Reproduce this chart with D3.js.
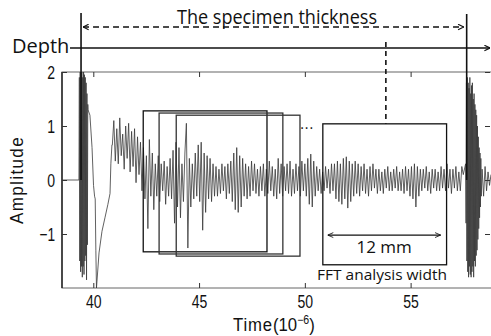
<!DOCTYPE html>
<html>
<head>
<meta charset="utf-8">
<script src="https://cdn.jsdelivr.net/npm/d3@7"></script>
<style>
  html, body { margin: 0; padding: 0; background: #fff; }
  svg { display: block; }
  .tick-label { font-family: "Liberation Sans", Arial, sans-serif; font-size: 19px; fill: #111; }
  .note { font-family: "Open Sans", "Noto Sans", sans-serif; fill: #111; }
</style>
</head>
<body>
<svg id="chart" width="491" height="336"></svg>
<script>
// axis ticks
const xTicks = [40, 45, 50, 55];
const yTicks = [-1, 0, 1, 2];

// waveform (time in 1e-6 s)
const baselineTimes = [38.52, 39.32];
const baselineValues = [0, 0];

// front-surface echo, sampled every 0.02 from 39.32
const frontEchoStart = 39.32, frontEchoStep = 0.02;
const frontEchoValues = [0.0, 1.9, -1.5, 2.0, -1.7, 2.0, -1.6, 2.0, -1.8, 1.9, -1.6,
  2.0, -1.75, 1.95, -1.5, 1.9, -1.4, 1.8, -1.85, 1.6, -1.2, 1.4];

// slow dip right after the front echo
const dipTimes  = [39.75, 39.84, 39.94, 40.01, 40.06, 40.09, 40.12, 40.15, 40.27, 40.41, 40.55, 40.69, 40.79, 40.83, 40.88];
const dipValues = [1.3, 1.2, 0.6, -0.1, -0.3, -0.35, -1.3, -2.0, -1.35, -0.95, -0.7, -0.45, -0.25, 0.3, 0.65];

// scattered coda, sampled every 0.07 from 40.9
const codaStart = 40.9, codaStep = 0.07;
const codaValues = [
  0.65, 1.1, 0.35, 0.95, 0.3, 1.15, 0.45, 0.85, 0.2, 1.0,
  0.4, 1.05, 0.15, 0.9, 0.25, 0.95, -0.05, 0.8, 0.1, 0.7,
  -0.2, 0.6, -0.35, 0.45, -0.9, 0.75, -0.3, 0.5, -0.55, 0.3,
  -0.3, 0.45, -0.4, 0.3, -0.2, 0.35, -0.45, 0.25, -0.3, 0.4,
  -0.35, 0.55, -0.8, 0.7, -0.5, 0.6, -0.7, 0.3, -0.4, 0.5,
  1.05, -1.26, 0.4, -0.5, 0.3, -0.35, 0.5, -0.3, 0.65, -0.4,
  0.7, -0.93, 0.5, -0.6, 0.45, -0.35, 0.4, -0.4, 0.3, -0.3,
  0.25, -0.3, 0.2, -0.25, 0.3, -0.2, 0.25, -0.35, 0.3, -0.25,
  0.35, -0.4, 0.5, -0.55, 0.6, -0.6, 0.45, -0.5, 0.4, -0.3,
  0.3, -0.35, 0.25, -0.3, 0.35, -0.2, 0.3, -0.25, 0.2, -0.3,
  0.25, -0.2, 0.3, -0.3, 0.2, -0.25, 0.35, -0.2, 0.25, -0.3,
  0.2, -0.35, 0.4, -0.25, 0.3, -0.3, 0.25, -0.2, 0.3, -0.25,
  0.35, -0.3, 0.2, -0.25, 0.3, -0.2, 0.25, -0.3, 0.35, -0.2,
  0.3, -0.3, 0.4, -0.45, 0.48, -0.5, 0.35, -0.3, 0.25, -0.2,
  0.2, -0.25, 0.15, -0.2, 0.25, -0.15, 0.2, -0.25, 0.3, -0.2,
  0.3, -0.35, 0.35, -0.4, 0.3, -0.45, 0.4, -0.35, 0.43, -0.52,
  0.35, -0.4, 0.3, -0.3, 0.35, -0.25, 0.3, -0.3, 0.25, -0.2,
  0.3, -0.25, 0.2, -0.3, 0.25, -0.2, 0.3, -0.15, 0.2, -0.25,
  0.2, -0.2, 0.15, -0.25, 0.2, -0.15, 0.25, -0.2, 0.15, -0.2,
  0.2, -0.15, 0.25, -0.2, 0.15, -0.2, 0.2, -0.25, 0.25, -0.2,
  0.2, -0.3, 0.25, -0.35, 0.3, -0.5, 0.25, -0.3, 0.2, -0.2,
  0.2, -0.15, 0.25, -0.2, 0.15, -0.25, 0.2, -0.15, 0.2, -0.2,
  0.15, -0.2, 0.25, -0.15, 0.2, -0.2, 0.3, -0.15, 0.2, -0.25,
  0.2, -0.15, 0.25, -0.2, 0.15, -0.2, 0.25, 0.1
];

// back-wall echo, sampled every 0.02 from 57.6
const backEchoStart = 57.6, backEchoStep = 0.02;
const backEchoValues = [0.3, -0.8, 1.8, -1.5, 1.9, -1.7, 1.8, -1.8, 1.7, -1.6, 1.9, -1.75,
  1.6, -1.8, 1.75, -1.7, 1.8, -1.6, 1.5, -1.8, 1.6, -1.5, 1.4, -1.6, 1.3, -1.4, 1.2,
  -1.3, 1.0, -1.1, 0.8, -0.9, 0.6, -0.7, 0.5, -0.5, 0.4, -0.3];

// after the back echo, every 0.07 from 58.38
const tailStart = 58.38, tailStep = 0.07;
const tailValues = [0.2, -0.3, 0.25, -0.2, 0.15, -0.1, 0.1];

// FFT analysis windows
const windowStarts  = [42.36, 43.11, 43.92, 50.85];
const windowTops    = [1.28, 1.24, 1.2, 1.04];
const windowBottoms = [-1.33, -1.37, -1.41, -1.57];
const windowWidth = 5.85;

// annotation positions in data units
const surfaceTime = 39.42, backWallTime = 57.65, depthMarkTime = 53.83;
const rulerFrom = 51.08, rulerTo = 56.42, rulerLevel = -1.02;

const svg = d3.select('#chart');
const margin = { left: 62, top: 72, right: 0, bottom: 48 };
const W = 491, H = 336;

const x = d3.scaleLinear().domain([38.52, 58.8]).range([margin.left, W - margin.right]);
const y = d3.scaleLinear().domain([-2, 2]).range([H - margin.bottom, margin.top]);

const grid = (start, step, vals) => vals.map((v, i) => [start + i * step, v]);
const signal = [
  ...baselineTimes.map((t, i) => [t, baselineValues[i]]),
  ...grid(frontEchoStart, frontEchoStep, frontEchoValues),
  ...dipTimes.map((t, i) => [t, dipValues[i]]),
  ...grid(codaStart, codaStep, codaValues),
  ...grid(backEchoStart, backEchoStep, backEchoValues),
  ...grid(tailStart, tailStep, tailValues),
];

svg.append('defs').append('clipPath').attr('id', 'plot-clip')
  .append('rect')
  .attr('x', margin.left).attr('y', margin.top)
  .attr('width', W - margin.left - margin.right).attr('height', H - margin.top - margin.bottom);

// frame
svg.append('rect')
  .attr('x', margin.left).attr('y', margin.top)
  .attr('width', W - margin.left - margin.right + 2).attr('height', H - margin.top - margin.bottom)
  .attr('fill', 'none').attr('stroke', '#666').attr('stroke-width', 1);
svg.append('line')
  .attr('x1', margin.left).attr('x2', margin.left)
  .attr('y1', margin.top).attr('y2', H - margin.bottom)
  .attr('stroke', '#111').attr('stroke-width', 1.3);

// axes with inward ticks
const yAxisL = d3.axisLeft(y).tickValues(yTicks).tickSize(-5).tickPadding(7).tickFormat(d => d < 0 ? '\u2212' + Math.abs(d) : d);
const yAxisR = d3.axisRight(y).tickValues(yTicks).tickSize(-5).tickFormat('');
const xAxisB = d3.axisBottom(x).tickValues(xTicks).tickSize(-5).tickPadding(7);
const xAxisT = d3.axisTop(x).tickValues(xTicks).tickSize(-5).tickFormat('');

const gl = svg.append('g').attr('transform', `translate(${margin.left},0)`).call(yAxisL);
const gr = svg.append('g').attr('transform', `translate(${W - 1},0)`).call(yAxisR);
const gb = svg.append('g').attr('transform', `translate(0,${H - margin.bottom})`).call(xAxisB);
const gt = svg.append('g').attr('transform', `translate(0,${margin.top})`).call(xAxisT);
[gl, gr, gb, gt].forEach(g => {
  g.select('.domain').remove();
  g.selectAll('.tick line').attr('stroke', '#333');
  g.selectAll('.tick text')
    .attr('class', 'tick-label').attr('font-family', null).attr('font-size', null)
    .attr('textLength', function () { return this.textContent.length * 7.8; })
    .attr('lengthAdjust', 'spacingAndGlyphs');
});

// waveform
svg.append('path')
  .datum(signal)
  .attr('clip-path', 'url(#plot-clip)')
  .attr('fill', 'none')
  .attr('stroke', '#383838')
  .attr('stroke-width', 0.8)
  .attr('stroke-linejoin', 'round')
  .attr('d', d3.line().x(d => x(d[0])).y(d => y(d[1])));

// FFT windows
svg.append('g').selectAll('rect')
  .data(windowStarts).join('rect')
  .attr('x', d => x(d))
  .attr('y', (d, i) => y(windowTops[i]))
  .attr('width', d => x(d + windowWidth) - x(d))
  .attr('height', (d, i) => y(windowBottoms[i]) - y(windowTops[i]))
  .attr('fill', 'none')
  .attr('stroke', (d, i) => i === 0 || i === 3 ? '#111' : '#333')
  .attr('stroke-width', 1.3);

svg.append('text').attr('class', 'note')
  .attr('x', x(49.78)).attr('y', y(0.94))
  .attr('font-size', 14).attr('letter-spacing', 1)
  .text('...');

// markers
const defs = svg.select('defs');
defs.append('marker').attr('id', 'chev').attr('viewBox', '0 0 10 10')
  .attr('refX', 10).attr('refY', 5).attr('markerWidth', 7).attr('markerHeight', 7)
  .attr('markerUnits', 'userSpaceOnUse').attr('orient', 'auto-start-reverse')
  .append('path').attr('d', 'M2,1 L10,5 L2,9').attr('fill', 'none').attr('stroke', '#111').attr('stroke-width', 1.6);
defs.append('marker').attr('id', 'chevSmall').attr('viewBox', '0 0 10 10')
  .attr('refX', 10).attr('refY', 5).attr('markerWidth', 7).attr('markerHeight', 7)
  .attr('markerUnits', 'userSpaceOnUse').attr('orient', 'auto-start-reverse')
  .append('path').attr('d', 'M2,1.5 L10,5 L2,8.5').attr('fill', 'none').attr('stroke', '#111').attr('stroke-width', 1.2);

// vertical lines at front surface and back wall
svg.append('line')
  .attr('x1', x(surfaceTime)).attr('x2', x(surfaceTime))
  .attr('y1', 13).attr('y2', y(0))
  .attr('stroke', '#111').attr('stroke-width', 1.6);
svg.append('line')
  .attr('x1', x(backWallTime)).attr('x2', x(backWallTime))
  .attr('y1', 14).attr('y2', y(0))
  .attr('stroke', '#111').attr('stroke-width', 1.6);

// specimen thickness
svg.append('line')
  .attr('x1', x(surfaceTime) + 2).attr('x2', x(backWallTime) - 3)
  .attr('y1', 27).attr('y2', 27)
  .attr('stroke', '#111').attr('stroke-width', 1.3)
  .attr('stroke-dasharray', '6,4')
  .attr('marker-start', 'url(#chev)').attr('marker-end', 'url(#chev)');
svg.append('rect').attr('x', 175).attr('y', 6).attr('width', 204).attr('height', 19).attr('fill', '#fff');
svg.append('text').attr('class', 'note')
  .attr('x', 177).attr('y', 24)
  .attr('font-size', 20).attr('textLength', 200).attr('lengthAdjust', 'spacingAndGlyphs')
  .text('The specimen thickness');

// depth axis
svg.append('text').attr('class', 'note')
  .attr('x', 12).attr('y', 53).attr('font-size', 20)
  .text('Depth');
svg.append('line')
  .attr('x1', 70).attr('x2', 490).attr('y1', 48).attr('y2', 48)
  .attr('stroke', '#111').attr('stroke-width', 1.4)
  .attr('marker-end', 'url(#chev)');
svg.append('line')
  .attr('x1', x(depthMarkTime)).attr('x2', x(depthMarkTime))
  .attr('y1', 42).attr('y2', y(windowTops[3]))
  .attr('stroke', '#111').attr('stroke-width', 1.6)
  .attr('stroke-dasharray', '5,4');

// 12 mm ruler
svg.append('line')
  .attr('x1', x(rulerFrom)).attr('x2', x(rulerTo))
  .attr('y1', y(rulerLevel)).attr('y2', y(rulerLevel))
  .attr('stroke', '#111').attr('stroke-width', 1.1)
  .attr('marker-start', 'url(#chevSmall)').attr('marker-end', 'url(#chevSmall)');
svg.append('text').attr('class', 'note')
  .attr('x', x((rulerFrom + rulerTo) / 2)).attr('y', 253)
  .attr('text-anchor', 'middle').attr('font-size', 17)
  .text('12 mm');
svg.append('text').attr('class', 'note')
  .attr('x', 317).attr('y', 280).attr('font-size', 14).attr('fill', '#222')
  .attr('textLength', 130).attr('lengthAdjust', 'spacingAndGlyphs')
  .text('FFT analysis width');

// axis titles
svg.append('text').attr('class', 'tick-label')
  .attr('transform', `translate(23,${y(0)}) rotate(-90) scale(0.9,1)`)
  .attr('text-anchor', 'middle').attr('letter-spacing', 1.5)
  .text('Amplitude');
const xt = svg.append('text').attr('class', 'tick-label')
  .attr('font-size', 18)
  .attr('transform', 'translate(233,331) scale(0.88,1)');
xt.append('tspan').attr('letter-spacing', 1).text('Time');
xt.append('tspan').text('(10');
xt.append('tspan').attr('dy', -7).attr('font-size', 12).text('\u22126');
xt.append('tspan').attr('dy', 7).text(')');
</script>
</body>
</html>
